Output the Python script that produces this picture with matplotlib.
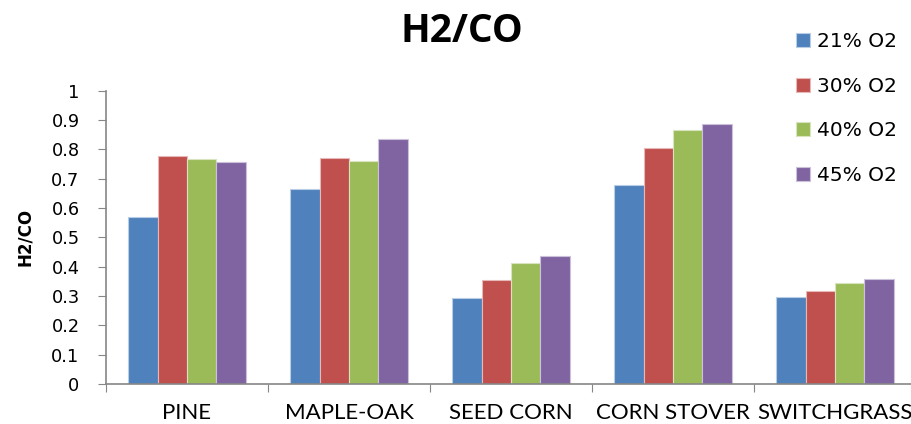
import numpy as np
import matplotlib
matplotlib.use("Agg")
from matplotlib import pyplot as plt

# feedstocks and H2/CO ratio for each oxygen level
feedstocks = ["PINE", "MAPLE-OAK", "SEED CORN", "CORN STOVER", "SWITCHGRASS"]
o2_21 = [0.569, 0.666, 0.292, 0.679, 0.296]
o2_30 = [0.776, 0.772, 0.355, 0.804, 0.317]
o2_40 = [0.767, 0.761, 0.413, 0.866, 0.345]
o2_45 = [0.758, 0.835, 0.436, 0.886, 0.357]
series_names = ["21% O2", "30% O2", "40% O2", "45% O2"]
yticks = [0, 0.1, 0.2, 0.3, 0.4, 0.5, 0.6, 0.7, 0.8, 0.9, 1]
ytick_labels = ["0", "0.1", "0.2", "0.3", "0.4", "0.5", "0.6", "0.7", "0.8", "0.9", "1"]

colors = ["#4F81BD", "#C0504D", "#9BBB59", "#8064A2"]
edges = ["#B9CDE5", "#E6B9B8", "#D7E4BD", "#CCC1DA"]

fig = plt.figure(figsize=(9.12, 4.24), dpi=100)
ax = fig.add_axes([106 / 912, 40 / 424, 810 / 912, 293.3 / 424])

x = np.arange(len(feedstocks)) + 0.5
w = 0.182
data = [o2_21, o2_30, o2_40, o2_45]
for j, vals in enumerate(data):
    ax.bar(x + (j - 1.5) * w, vals, w, color=colors[j], edgecolor=edges[j],
           linewidth=0.8, label=series_names[j], zorder=2)

ax.set_xlim(0, len(feedstocks))
ax.set_ylim(0, 1)
ax.set_yticks(yticks)
ax.set_yticklabels(ytick_labels, fontsize=12.8, family="DejaVu Sans")
ax.set_xticks(np.arange(len(feedstocks) + 1))
ax.set_xticklabels([])
ax.set_xticks(x, minor=True)
ax.set_xticklabels(feedstocks, minor=True, fontsize=16, family="Lato")
ax.tick_params(axis="x", which="minor", length=0, pad=14)
ax.tick_params(axis="x", which="major", length=6, color="#868686", direction="out")
ax.tick_params(axis="y", length=6, color="#868686", direction="out", pad=13)

for s in ["top", "right"]:
    ax.spines[s].set_visible(False)
for s in ["left", "bottom"]:
    ax.spines[s].set_color("#868686")
    ax.spines[s].set_linewidth(1.2)

ax.set_ylabel("H2/CO", fontsize=12, fontweight="bold", family="DejaVu Sans")
ax.yaxis.set_label_coords(-72 / 810, 0.5)

fig.text(462 / 912, 1 - 31 / 424, "H2/CO", ha="center", va="center",
         fontsize=28, fontweight="bold", family="Open Sans")

leg = fig.legend(loc="upper left", bbox_to_anchor=(788 / 912, 1 - 24 / 424),
                 frameon=False, prop={"family": "DejaVu Sans", "size": 14.5},
                 handlelength=0.7, handleheight=0.7, handletextpad=0.35,
                 labelspacing=1.27, borderaxespad=0)

fig.savefig("out.png", dpi=100)
